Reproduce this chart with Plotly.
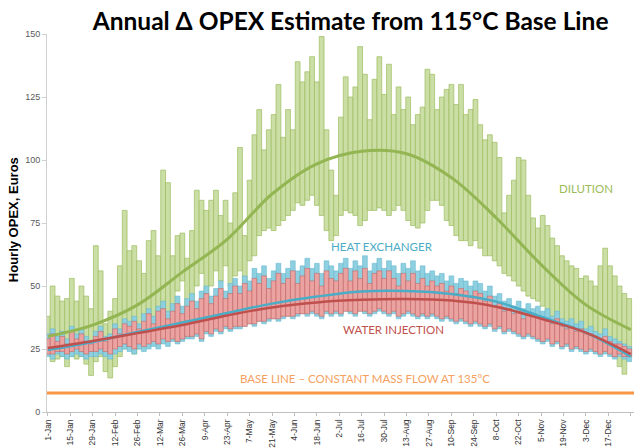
import numpy as np
import plotly.graph_objects as go

# ---------------- data ----------------
TICK_DAYS = list(range(0, 365, 14))
TICK_LABELS = ["1-Jan", "15-Jan", "29-Jan", "12-Feb", "26-Feb", "12-Mar", "26-Mar", "9-Apr",
               "23-Apr", "7-May", "21-May", "4-Jun", "18-Jun", "2-Jul", "16-Jul", "30-Jul",
               "13-Aug", "27-Aug", "10-Sep", "24-Sep", "8-Oct", "22-Oct", "5-Nov", "19-Nov",
               "3-Dec", "17-Dec", "31-Dec"]

# day index (every 3rd day of the year)
DAYS = list(range(0, 364, 3))

DILUTION_HI = [38, 50, 46, 44, 45, 53, 44, 50, 46, 41,
               66, 56, 35, 40, 45, 58, 80, 64, 66, 60,
               55, 68, 72, 62, 96, 91, 62, 70, 71, 61,
               72, 88, 84, 80, 84, 88, 78, 84, 75, 87,
               105, 70, 92, 110, 120, 104, 112, 118, 130, 109,
               120, 112, 139, 131, 135, 141, 131, 149, 112, 96,
               86, 117, 133, 125, 129, 145, 134, 116, 132, 141,
               126, 138, 118, 129, 120, 125, 114, 118, 121, 136,
               134, 120, 125, 128, 130, 122, 130, 118, 120, 124,
               114, 108, 110, 107, 101, 79, 86, 92, 101, 100,
               86, 77, 73, 78, 74, 69, 66, 62, 60, 58,
               57, 53, 54, 52, 50, 58, 65, 58, 54, 50,
               47, 45]
DILUTION_LO = [23, 20, 21, 22, 18, 22, 21, 22, 19, 14.5,
               20, 22, 16, 13.5, 18, 22, 25, 27, 23, 25,
               28, 30, 32, 31, 33, 35, 36, 48, 52, 40,
               42, 50, 55, 46, 50, 56, 52, 58, 50, 54,
               56, 50, 60, 62, 70, 72, 73, 72, 74, 76,
               78, 80, 83, 82, 84, 86, 82, 78, 72, 68,
               70, 78, 80, 79, 78, 74, 76, 80, 80, 81,
               80, 78, 80, 82, 80, 76, 74, 73, 75, 80,
               84, 84, 82, 76, 74, 70, 68, 68, 66, 68,
               65, 62, 62, 60, 58, 55, 54, 52, 50, 48,
               46, 45, 44, 42, 40, 38, 36, 34, 32, 30,
               28, 27, 26, 25, 25, 24, 24, 23, 22, 18,
               15, 22]

HEATX_HI = [31, 33, 30, 32, 29, 34, 31, 33, 30, 28,
            32, 34, 30, 31, 35, 33, 37, 36, 38, 35,
            39, 41, 38, 42, 44, 40, 43, 46, 42, 45,
            47, 44, 48, 50, 46, 49, 52, 48, 51, 53,
            50, 54, 52, 57, 55, 58, 53, 56, 59, 55,
            57, 60, 56, 58, 61, 57, 59, 55, 60, 58,
            56, 59, 61, 57, 60, 58, 62, 56, 59, 61,
            57, 60, 58, 55, 59, 57, 60, 56, 58, 55,
            56, 54, 55, 52, 54, 51, 53, 52, 50, 52,
            51, 48, 50, 46, 47, 44, 45, 42, 44, 41,
            43, 41, 42, 40, 41, 38, 40, 37, 36, 37,
            35, 36, 33, 34, 32, 31, 33, 30, 29, 28,
            27, 26]
HEATX_LO = [22, 21, 23, 22, 21, 22, 23, 22, 21, 22,
            22, 23, 22, 21, 23, 24, 25, 24, 23, 25,
            24, 25, 26, 25, 27, 26, 28, 27, 28, 29,
            29, 30, 28, 31, 30, 32, 31, 33, 32, 33,
            33, 34, 35, 34, 36, 35, 36, 37, 36, 37,
            38, 37, 38, 39, 38, 39, 38, 37, 39, 38,
            39, 38, 40, 39, 38, 40, 39, 38, 39, 40,
            39, 38, 39, 37, 38, 39, 38, 37, 38, 37,
            38, 37, 36, 37, 36, 35, 36, 35, 34, 35,
            34, 33, 34, 32, 33, 31, 32, 31, 30, 29,
            30, 29, 28, 27, 28, 26, 27, 25, 26, 24,
            25, 24, 23, 24, 23, 22, 23, 22, 21, 22,
            21, 20]

WATERINJ_HI = [29, 31, 28, 30, 27, 32, 29, 31, 28, 27,
               30, 32, 28, 29, 33, 31, 35, 34, 36, 33,
               36, 39, 35, 40, 41, 37, 40, 43, 39, 42,
               44, 41, 45, 47, 43, 46, 49, 45, 47, 50,
               47, 51, 48, 53, 51, 54, 49, 52, 55, 51,
               53, 56, 51, 54, 57, 52, 55, 50, 56, 53,
               52, 55, 57, 52, 56, 53, 57, 51, 55, 56,
               53, 56, 53, 50, 55, 52, 55, 51, 53, 50,
               52, 50, 51, 48, 50, 47, 49, 48, 46, 48,
               47, 44, 46, 42, 43, 40, 41, 39, 40, 37,
               39, 38, 38, 37, 37, 35, 37, 34, 33, 34,
               32, 33, 31, 31, 30, 29, 30, 28, 27, 27,
               26, 25]
WATERINJ_LO = [23, 23, 24, 24, 23, 24, 25, 24, 23, 24,
               24, 25, 24, 23, 25, 26, 27, 26, 25, 27,
               26, 27, 28, 27, 29, 28, 29, 28, 29, 30,
               30, 31, 29, 32, 31, 33, 32, 34, 33, 34,
               34, 34, 35, 35, 36, 36, 37, 37, 37, 38,
               38, 38, 39, 39, 39, 40, 39, 38, 40, 39,
               40, 39, 40, 40, 39, 40, 40, 39, 40, 41,
               40, 39, 40, 38, 39, 40, 39, 38, 39, 38,
               39, 38, 37, 38, 37, 36, 37, 36, 35, 36,
               35, 34, 35, 33, 34, 32, 33, 32, 31, 30,
               31, 30, 29, 28, 29, 27, 28, 26, 27, 25,
               26, 25, 24, 25, 24, 23, 24, 23, 22, 23,
               22, 22]

# smooth trend lines, read every 4 weeks
TREND_DAYS = [0, 28, 56, 84, 112, 140, 168, 196, 224, 252, 280, 308, 336, 364]
DILUTION_TREND = [30, 34.5, 42.5, 55.5, 68.5, 86.5, 98.5, 103.5, 102.5, 93, 77, 58.5, 42.5, 32.7]
HEATX_TREND = [24.6, 27.8, 31.8, 35.5, 39.3, 43, 45.8, 47.8, 48, 46.8, 43.8, 37.8, 31.5, 22]
WATERINJ_TREND = [25.4, 28.2, 31.3, 34.5, 38.3, 41.5, 43.5, 44.5, 44.8, 44.2, 41.8, 37, 31.5, 23]

BASE_LINE_VALUE = 7.5

X_RANGE = [-0.5, 366]

# ---------------- figure ----------------
def band(hi, lo):
    hi = np.array(hi, dtype=float)
    lo = np.array(lo, dtype=float)
    return hi - lo, lo

fig = go.Figure()

h, b = band(DILUTION_HI, DILUTION_LO)
fig.add_trace(go.Bar(x=DAYS, y=h, base=b, width=3,
                     marker=dict(color="#cadea6", line=dict(color="#9dbd5e", width=0.7)),
                     showlegend=False, hoverinfo="skip"))
h, b = band(HEATX_HI, HEATX_LO)
fig.add_trace(go.Bar(x=DAYS, y=h, base=b, width=3,
                     marker=dict(color="#8ecfe0", line=dict(color="#5db5cc", width=0.5)),
                     showlegend=False, hoverinfo="skip"))
h, b = band(WATERINJ_HI, WATERINJ_LO)
fig.add_trace(go.Bar(x=DAYS, y=h, base=b, width=3,
                     marker=dict(color="#eba3a2", line=dict(color="#c55a57", width=0.5)),
                     showlegend=False, hoverinfo="skip"))

fig.add_trace(go.Scatter(x=TREND_DAYS, y=DILUTION_TREND, mode="lines",
                         line=dict(color="#93b552", width=3, shape="spline"),
                         showlegend=False, hoverinfo="skip"))
fig.add_trace(go.Scatter(x=TREND_DAYS, y=HEATX_TREND, mode="lines",
                         line=dict(color="#4bacc6", width=2.5, shape="spline"),
                         showlegend=False, hoverinfo="skip"))
fig.add_trace(go.Scatter(x=TREND_DAYS, y=WATERINJ_TREND, mode="lines",
                         line=dict(color="#c0504d", width=2.5, shape="spline"),
                         showlegend=False, hoverinfo="skip"))
fig.add_trace(go.Scatter(x=X_RANGE, y=[BASE_LINE_VALUE, BASE_LINE_VALUE], mode="lines",
                         line=dict(color="#f79646", width=3),
                         showlegend=False, hoverinfo="skip"))

label_font = "Lato, 'Open Sans', sans-serif"
fig.add_annotation(x=336, y=88.7, text="DILUTION", showarrow=False,
                   font=dict(family=label_font, size=11.5, color="#9bbb59"))
fig.add_annotation(x=208.5, y=65.5, text="HEAT EXCHANGER", showarrow=False,
                   font=dict(family=label_font, size=11.5, color="#4bacc6"))
fig.add_annotation(x=216, y=32.8, text="WATER INJECTION", showarrow=False,
                   font=dict(family=label_font, size=11.5, color="#c0504d"))
fig.add_annotation(x=198, y=13.2, text="BASE LINE \u2013 CONSTANT MASS FLOW AT 135\u00b0C", showarrow=False,
                   font=dict(family=label_font, size=11.5, color="#f5a15e"))

fig.add_annotation(xref="paper", yref="paper", x=-0.058, y=0.51, xanchor="center", yanchor="middle",
                   text="<b>Hourly OPEX, Euros</b>", textangle=-90, showarrow=False,
                   font=dict(family="Liberation Sans, Arial, sans-serif", size=13, color="#000000"))

fig.update_layout(
    width=634, height=448,
    margin=dict(l=47, r=0, t=34, b=33),
    paper_bgcolor="white", plot_bgcolor="white",
    barmode="overlay",
    title=dict(text="<b>Annual \u0394 OPEX Estimate from 115\u00b0C Base Line</b>",
               x=0.553, xanchor="center", y=0.953, yanchor="middle", yref="container",
               font=dict(family="Lato, 'Open Sans', sans-serif", size=24.5, color="#000000")),
    xaxis=dict(range=X_RANGE, tickmode="array", tickvals=TICK_DAYS, ticktext=TICK_LABELS,
               tickangle=-90, ticks="outside", ticklen=3, tickcolor="#bfbfbf",
               showline=True, linecolor="#bfbfbf", linewidth=1, showgrid=False, zeroline=False,
               tickfont=dict(family="Liberation Sans, Arial, sans-serif", size=8.5, color="#333333")),
    yaxis=dict(range=[0, 150], tickvals=[0, 25, 50, 75, 100, 125, 150], ticks="outside",
               ticklen=4, tickcolor="#d0d0d0", showline=True, linecolor="#d0d0d0", linewidth=1,
               showgrid=False, zeroline=False,
               tickfont=dict(family="Liberation Sans, Arial, sans-serif", size=9, color="#595959")),
)

fig.write_html("out.html",
               config={"displayModeBar": False},
               post_script="document.body.style.margin='0';document.body.style.padding='0';")
